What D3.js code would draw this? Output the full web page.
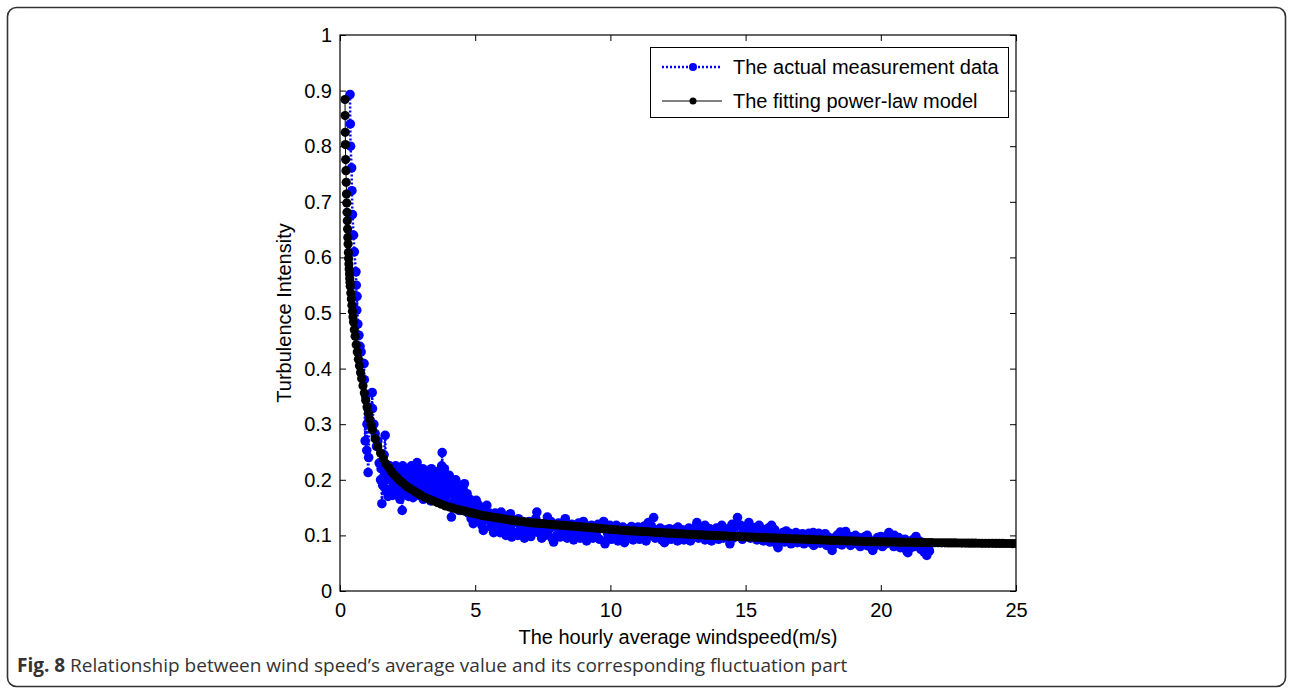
<!DOCTYPE html>
<html>
<head>
<meta charset="utf-8">
<script src="https://cdn.jsdelivr.net/npm/d3@7"></script>
<style>
  body { margin: 0; background: #fff; }
  svg { display: block; }
  text { font-family: "Liberation Sans", Arial, sans-serif; }
</style>
</head>
<body>
<div id="chart"></div>
<script>
const xTicks = [0, 5, 10, 15, 20, 25];
const yTicks = [0, 0.1, 0.2, 0.3, 0.4, 0.5, 0.6, 0.7, 0.8, 0.9, 1];
const legendLabels = ["The actual measurement data", "The fitting power-law model"];
const xTitle = "The hourly average windspeed(m/s)";
const yTitle = "Turbulence Intensity";

const measured = [
  [0.37,0.893],[0.38,0.84],[0.39,0.80],[0.43,0.761],[0.44,0.72],[0.46,0.677],[0.5,0.64],[0.53,0.61],
  [0.59,0.574],[0.6,0.55],[0.62,0.505],[0.63,0.53],[0.66,0.48],[0.7,0.46],[0.74,0.44],[0.78,0.43],
  [0.82,0.41],[0.89,0.409],[0.9,0.38],[0.93,0.27],[0.95,0.35],[0.99,0.253],[1.0,0.3],[1.04,0.213],
  [1.06,0.24],[1.1,0.33],[1.15,0.3],[1.19,0.357],[1.2,0.328],[1.25,0.3],[1.3,0.283],[1.35,0.26],
  [1.4,0.27],[1.45,0.23],[1.5,0.2],[1.52,0.22],[1.55,0.157],[1.58,0.19],[1.6,0.23],[1.63,0.245],
  [1.67,0.28],[1.7,0.21],[1.72,0.18],[1.75,0.2],[1.78,0.17],[1.82,0.215],[1.86,0.18],[1.9,0.2],
  [1.94,0.172],[1.98,0.21],[2.02,0.185],[2.06,0.225],[2.1,0.175],[2.14,0.2],[2.18,0.19],[2.22,0.165],
  [2.26,0.21],[2.3,0.145],[2.34,0.195],[2.38,0.175],[2.42,0.22],[2.46,0.18],[2.5,0.2],[2.54,0.17],
  [2.58,0.215],[2.62,0.185],[2.66,0.195],[2.7,0.168],[2.74,0.205],[2.78,0.18],[2.82,0.215],[2.85,0.231],
  [2.88,0.19],[2.92,0.172],[2.96,0.2],[3.0,0.178],[3.04,0.21],[3.08,0.165],[3.12,0.195],[3.16,0.18],
  [3.2,0.205],[3.24,0.17],[3.28,0.19],[3.32,0.2],[3.36,0.162],[3.4,0.21],[3.44,0.18],[3.48,0.195],
  [3.52,0.17],[3.56,0.205],[3.6,0.185],[3.64,0.16],[3.68,0.2],[3.72,0.175],[3.76,0.225],[3.78,0.249],
  [3.8,0.19],[3.84,0.165],[3.88,0.205],[3.92,0.17],[3.96,0.195],[4.0,0.155],[4.04,0.208],[4.08,0.175],
  [4.12,0.133],[4.16,0.19],[4.2,0.16],[4.25,0.185],[4.3,0.15],[4.35,0.18],[4.4,0.145],[4.45,0.17],
  [4.5,0.155],[4.55,0.185],[4.6,0.193],[4.65,0.15],[4.7,0.175],[4.75,0.14],[4.8,0.165],[4.85,0.13],
  [4.9,0.16],[4.93,0.121],[4.97,0.15],[5.04,0.163],[5.08,0.135],[5.12,0.155],[5.16,0.125],[5.2,0.15],
  [5.25,0.118],[5.3,0.109],[5.35,0.145],[5.43,0.154],[5.48,0.128],[5.53,0.14],[5.58,0.115],[5.63,0.135],
  [5.68,0.105],[5.74,0.14],[5.8,0.12],[5.86,0.132],[5.92,0.105],[5.96,0.142],[6.02,0.115],[6.08,0.13],
  [6.14,0.1],[6.2,0.125],[6.26,0.11],[6.3,0.139],[6.35,0.097],[6.4,0.122],[6.46,0.105],[6.52,0.128],
  [6.58,0.1],[6.64,0.12],[6.7,0.108],[6.76,0.125],[6.82,0.095],[6.88,0.118],[6.94,0.105],[7.0,0.125],
  [7.06,0.098],[7.12,0.12],[7.18,0.11],[7.24,0.13],[7.28,0.142],[7.34,0.105],[7.4,0.12],[7.46,0.095],
  [7.52,0.115],[7.58,0.1],[7.67,0.133],[7.72,0.11],[7.78,0.12],[7.84,0.095],[7.9,0.088],[7.96,0.115],
  [8.02,0.1],[8.08,0.122],[8.14,0.097],[8.2,0.118],[8.26,0.105],[8.33,0.13],[8.4,0.095],[8.46,0.115],
  [8.52,0.1],[8.58,0.12],[8.64,0.092],[8.7,0.112],[8.76,0.1],[8.82,0.122],[8.88,0.095],[8.94,0.115],
  [9.0,0.102],[9.06,0.12],[9.12,0.09],[9.18,0.11],[9.24,0.098],[9.3,0.118],[9.36,0.095],[9.42,0.112],
  [9.48,0.1],[9.54,0.12],[9.6,0.093],[9.66,0.115],[9.75,0.125],[9.8,0.085],[9.86,0.108],[9.92,0.097],
  [9.98,0.118],[10.04,0.093],[10.1,0.112],[10.16,0.1],[10.22,0.118],[10.28,0.09],[10.34,0.11],[10.4,0.098],
  [10.46,0.115],[10.52,0.087],[10.6,0.094],[10.66,0.112],[10.72,0.098],[10.78,0.116],[10.84,0.092],[10.9,0.108],
  [10.96,0.1],[11.02,0.115],[11.08,0.093],[11.14,0.11],[11.2,0.098],[11.26,0.117],[11.32,0.09],[11.4,0.123],
  [11.46,0.1],[11.52,0.112],[11.6,0.132],[11.66,0.095],[11.72,0.11],[11.78,0.1],[11.84,0.113],[11.9,0.092],
  [11.96,0.105],[12.0,0.087],[12.06,0.11],[12.12,0.097],[12.18,0.112],[12.24,0.093],[12.3,0.108],[12.36,0.098],
  [12.42,0.112],[12.48,0.09],[12.54,0.105],[12.6,0.095],[12.66,0.11],[12.72,0.092],[12.78,0.108],[12.84,0.097],
  [12.9,0.113],[12.96,0.09],[13.02,0.106],[13.08,0.098],[13.14,0.115],[13.2,0.123],[13.26,0.095],[13.32,0.11],
  [13.38,0.1],[13.44,0.114],[13.5,0.092],[13.56,0.108],[13.62,0.096],[13.68,0.112],[13.74,0.09],[13.8,0.106],
  [13.86,0.097],[13.92,0.113],[14.0,0.093],[14.06,0.108],[14.12,0.118],[14.18,0.095],[14.24,0.11],[14.3,0.099],
  [14.36,0.112],[14.42,0.085],[14.48,0.105],[14.54,0.095],[14.6,0.115],[14.7,0.132],[14.76,0.1],[14.82,0.118],
  [14.88,0.093],[14.94,0.11],[15.0,0.098],[15.06,0.116],[15.12,0.123],[15.18,0.095],[15.24,0.11],[15.3,0.098],
  [15.36,0.114],[15.42,0.092],[15.48,0.108],[15.54,0.096],[15.6,0.112],[15.66,0.09],[15.72,0.105],[15.78,0.095],
  [15.84,0.113],[15.9,0.088],[15.96,0.118],[16.02,0.1],[16.08,0.11],[16.14,0.085],[16.2,0.078],[16.26,0.1],
  [16.32,0.092],[16.38,0.105],[16.44,0.088],[16.5,0.102],[16.56,0.09],[16.62,0.104],[16.68,0.085],[16.74,0.1],
  [16.8,0.092],[16.86,0.105],[16.92,0.087],[16.98,0.1],[17.04,0.09],[17.1,0.103],[17.16,0.085],[17.22,0.098],
  [17.28,0.09],[17.34,0.104],[17.4,0.087],[17.46,0.1],[17.52,0.082],[17.58,0.097],[17.64,0.09],[17.7,0.104],
  [17.76,0.086],[17.82,0.1],[17.88,0.088],[17.94,0.103],[18.0,0.082],[18.06,0.097],[18.12,0.088],[18.2,0.073],
  [18.26,0.095],[18.32,0.085],[18.38,0.1],[18.44,0.087],[18.5,0.098],[18.56,0.083],[18.62,0.102],[18.7,0.107],
  [18.76,0.09],[18.82,0.098],[18.88,0.082],[18.94,0.097],[19.0,0.087],[19.06,0.1],[19.12,0.085],[19.18,0.096],
  [19.24,0.08],[19.3,0.095],[19.36,0.086],[19.42,0.098],[19.48,0.082],[19.54,0.094],[19.6,0.08],[19.7,0.073],
  [19.76,0.09],[19.82,0.082],[19.88,0.096],[19.94,0.085],[20.0,0.098],[20.06,0.08],[20.12,0.093],[20.18,0.085],
  [20.24,0.1],[20.3,0.105],[20.36,0.088],[20.42,0.095],[20.48,0.08],[20.54,0.092],[20.6,0.083],[20.66,0.096],
  [20.72,0.078],[20.78,0.09],[20.84,0.08],[20.9,0.093],[20.96,0.072],[21.0,0.069],[21.06,0.088],[21.12,0.078],
  [21.18,0.092],[21.24,0.08],[21.3,0.098],[21.36,0.083],[21.42,0.09],[21.48,0.075],[21.54,0.087],[21.6,0.07],
  [21.66,0.082],[21.7,0.064],[21.76,0.078],[21.8,0.072],
  // further readings inside the dense band
  [1.84,0.225],[1.92,0.185],[2.0,0.22],[2.08,0.19],[2.16,0.215],[2.24,0.18],[2.32,0.225],[2.4,0.19],
  [2.48,0.215],[2.56,0.19],[2.64,0.225],[2.72,0.19],[2.8,0.2],[2.9,0.215],[2.98,0.19],[3.06,0.22],
  [3.14,0.17],[3.22,0.215],[3.3,0.18],[3.38,0.22],[3.46,0.17],[3.54,0.215],[3.62,0.195],[3.7,0.215],
  [3.86,0.22],[3.94,0.185],[4.02,0.19],[4.1,0.2],[4.18,0.175],[4.28,0.2],[4.38,0.165],[4.48,0.19],
  [4.58,0.17],[4.68,0.16],[5.1,0.145],[5.4,0.13],[5.7,0.125],[6.0,0.135],[6.3,0.115],[6.6,0.13],
  [6.9,0.11],[7.2,0.125],[7.5,0.105],[7.8,0.125],[8.1,0.11],[8.4,0.12],[8.7,0.105],[9.0,0.125],
  [9.3,0.105],[9.6,0.118],[9.9,0.105],[10.5,0.105],[11.0,0.1],[11.5,0.118],[12.5,0.115],[13.5,0.118],
  [14.5,0.12],[15.5,0.118],[16.5,0.108],[17.5,0.105],[18.5,0.106],[19.5,0.1],[20.5,0.1],[21.2,0.085]
];

// fitted power-law model [windspeed, turbulence intensity]
const fitted = [
  [0.185,0.884],[0.19,0.855],[0.195,0.825],[0.2,0.803],[0.21,0.776],[0.22,0.756],[0.23,0.735],[0.24,0.714],
  [0.25,0.698],[0.26,0.681],[0.27,0.666],[0.28,0.651],[0.29,0.636],[0.3,0.624],[0.31,0.609],[0.32,0.598],
  [0.33,0.588],[0.34,0.579],[0.35,0.57],[0.36,0.562],[0.37,0.555],[0.38,0.548],[0.4,0.536],[0.42,0.525],
  [0.44,0.514],[0.46,0.503],[0.48,0.493],[0.5,0.484],[0.53,0.47],[0.56,0.458],[0.6,0.443],[0.64,0.43],
  [0.68,0.417],[0.72,0.405],[0.76,0.393],[0.8,0.382],[0.85,0.369],[0.9,0.356],[0.95,0.343],[1.0,0.331],
  [1.05,0.32],[1.1,0.309],[1.15,0.299],[1.2,0.29],[1.3,0.274],[1.4,0.26],[1.5,0.248],[1.6,0.238],
  [1.7,0.229],[1.8,0.222],[1.9,0.215],[2.0,0.209],[2.1,0.204],[2.2,0.199],[2.3,0.195],[2.4,0.191],
  [2.5,0.187],[2.6,0.184],[2.7,0.181],[2.8,0.178],[2.9,0.175],[3.0,0.172],[3.15,0.168],[3.3,0.165],
  [3.45,0.162],[3.6,0.159],[3.75,0.156],[3.9,0.153],[4.05,0.151],[4.2,0.149],[4.35,0.147],[4.5,0.145],
  [4.625,0.1435],[4.75,0.142],[4.875,0.1405],[5.0,0.139],[5.125,0.1375],[5.25,0.136],[5.375,0.135],[5.5,0.134],
  [5.625,0.133],[5.75,0.132],[5.875,0.131],[6.0,0.13],[6.125,0.129],[6.25,0.128],[6.375,0.127],[6.5,0.126],
  [6.625,0.1255],[6.75,0.125],[6.875,0.124],[7.0,0.123],[7.125,0.1225],[7.25,0.122],[7.375,0.1215],[7.5,0.121],
  [7.625,0.1205],[7.75,0.12],[7.875,0.1195],[8.0,0.119],[8.125,0.1185],[8.25,0.118],[8.375,0.1175],[8.5,0.117],
  [8.625,0.1165],[8.75,0.116],[8.875,0.1155],[9.0,0.115],[9.125,0.1145],[9.25,0.114],[9.375,0.1135],[9.5,0.113],
  [9.625,0.1125],[9.75,0.112],[9.875,0.1115],[10.0,0.111],[10.125,0.1105],[10.25,0.11],[10.375,0.1095],[10.5,0.109],
  [10.625,0.1085],[10.75,0.108],[10.875,0.108],[11.0,0.1075],[11.125,0.107],[11.25,0.107],[11.375,0.1065],[11.5,0.106],
  [11.625,0.1055],[11.75,0.105],[11.875,0.105],[12.0,0.1045],[12.125,0.104],[12.25,0.104],[12.375,0.1035],[12.5,0.103],
  [12.625,0.103],[12.75,0.1025],[12.875,0.102],[13.0,0.102],[13.125,0.1015],[13.25,0.101],[13.375,0.101],[13.5,0.1005],
  [13.625,0.1],[13.75,0.1],[13.875,0.0995],[14.0,0.0995],[14.125,0.099],[14.25,0.099],[14.375,0.0985],[14.5,0.0985],
  [14.625,0.098],[14.75,0.098],[14.875,0.0975],[15.0,0.0975],[15.125,0.097],[15.25,0.097],[15.375,0.0965],[15.5,0.0965],
  [15.625,0.096],[15.75,0.096],[15.875,0.0955],[16.0,0.0955],[16.125,0.095],[16.25,0.095],[16.375,0.0945],[16.5,0.0945],
  [16.625,0.094],[16.75,0.094],[16.875,0.0937],[17.0,0.0935],[17.125,0.0932],[17.25,0.093],[17.375,0.0927],[17.5,0.0925],
  [17.625,0.0922],[17.75,0.092],[17.875,0.0917],[18.0,0.0915],[18.125,0.0912],[18.25,0.091],[18.375,0.0908],[18.5,0.0906],
  [18.625,0.0904],[18.75,0.0902],[18.875,0.09],[19.0,0.0898],[19.125,0.0896],[19.25,0.0894],[19.375,0.0892],[19.5,0.089],
  [19.625,0.0889],[19.75,0.0888],[19.875,0.0886],[20.0,0.0885],[20.125,0.0884],[20.25,0.0882],[20.375,0.0881],[20.5,0.088],
  [20.625,0.0879],[20.75,0.0878],[20.875,0.0877],[21.0,0.0876],[21.125,0.0875],[21.25,0.0874],[21.375,0.0873],[21.5,0.0872],
  [21.625,0.0871],[21.75,0.087],[21.875,0.0869],[22.0,0.0868],[22.125,0.0868],[22.25,0.0867],[22.375,0.0866],[22.5,0.0865],
  [22.625,0.0865],[22.75,0.0864],[22.875,0.0863],[23.0,0.0862],[23.125,0.0862],[23.25,0.0861],[23.375,0.086],[23.5,0.086],
  [23.625,0.0859],[23.75,0.0858],[23.875,0.0858],[24.0,0.0857],[24.125,0.0857],[24.25,0.0856],[24.375,0.0855],[24.5,0.0855],
  [24.625,0.0854],[24.75,0.0854],[24.875,0.0853],[25.0,0.0853]
];

const width = 1292;
const height = 693;
const plot = { left: 340, right: 1016, top: 35, bottom: 591 };
const tickLen = 6;

const svg = d3.select("#chart").append("svg")
  .attr("width", width)
  .attr("height", height);

// outer figure frame
svg.append("rect")
  .attr("x", 7.5).attr("y", 7.5)
  .attr("width", 1278).attr("height", 679)
  .attr("rx", 9).attr("ry", 9)
  .style("fill", "none")
  .style("stroke", "#333")
  .style("stroke-width", 1.6);

const x = d3.scaleLinear().domain([0, 25]).range([plot.left, plot.right]);
const y = d3.scaleLinear().domain([0, 1]).range([plot.bottom, plot.top]);

svg.append("clipPath").attr("id", "clip")
  .append("rect")
  .attr("x", plot.left).attr("y", plot.top)
  .attr("width", plot.right - plot.left).attr("height", plot.bottom - plot.top);

const g = svg.append("g").attr("clip-path", "url(#clip)");

const line = d3.line().x((d) => x(d[0])).y((d) => y(d[1]));
const measuredSorted = d3.sort(measured, (d) => d[0]);

// measurement data: dotted line + markers
g.append("path")
  .datum(measuredSorted)
  .attr("d", line)
  .style("fill", "none")
  .style("stroke", "#0000ff")
  .style("stroke-width", 2.5)
  .style("stroke-dasharray", "2,2");

g.append("g").selectAll("circle").data(measuredSorted).enter().append("circle")
  .attr("cx", (d) => x(d[0]))
  .attr("cy", (d) => y(d[1]))
  .attr("r", 4.8)
  .style("fill", "#0000ff");

// fitted power-law model
g.append("path")
  .datum(fitted)
  .attr("d", line)
  .style("fill", "none")
  .style("stroke", "#000")
  .style("stroke-width", 1);

g.append("g").selectAll("circle").data(fitted).enter().append("circle")
  .attr("cx", (d) => x(d[0]))
  .attr("cy", (d) => y(d[1]))
  .attr("r", 4.6)
  .style("fill", "#000");

// axes box with inward ticks on all sides
const axes = svg.append("g");
axes.append("rect")
  .attr("x", plot.left).attr("y", plot.top)
  .attr("width", plot.right - plot.left).attr("height", plot.bottom - plot.top)
  .style("fill", "none")
  .style("stroke", "#000")
  .style("stroke-width", 1.2);

const bottomAxis = axes.append("g")
  .attr("transform", `translate(0,${plot.bottom})`)
  .call(d3.axisBottom(x).tickValues(xTicks).tickSizeInner(-tickLen).tickSizeOuter(0).tickPadding(12).tickFormat(d3.format("d")));
const topAxis = axes.append("g")
  .attr("transform", `translate(0,${plot.top})`)
  .call(d3.axisTop(x).tickValues(xTicks).tickSizeInner(-tickLen).tickSizeOuter(0).tickFormat(""));
const leftAxis = axes.append("g")
  .attr("transform", `translate(${plot.left},0)`)
  .call(d3.axisLeft(y).tickValues(yTicks).tickSizeInner(-tickLen).tickSizeOuter(0).tickPadding(8).tickFormat((d) => String(+d.toFixed(1))));
const rightAxis = axes.append("g")
  .attr("transform", `translate(${plot.right},0)`)
  .call(d3.axisRight(y).tickValues(yTicks).tickSizeInner(-tickLen).tickSizeOuter(0).tickFormat(""));

[bottomAxis, topAxis, leftAxis, rightAxis].forEach((a) => {
  a.select(".domain").remove();
  a.selectAll(".tick line").style("stroke", "#000").style("stroke-width", 1);
  a.selectAll(".tick text")
    .style("font-family", "'Liberation Sans', Arial, sans-serif")
    .style("font-size", "20px")
    .style("fill", "#000");
});

// axis titles
svg.append("text")
  .attr("x", (plot.left + plot.right) / 2)
  .attr("y", 644)
  .attr("text-anchor", "middle")
  .style("font-size", "20px")
  .text(xTitle);

svg.append("text")
  .attr("transform", `translate(291,${(plot.top + plot.bottom) / 2}) rotate(-90)`)
  .attr("text-anchor", "middle")
  .style("font-size", "20px")
  .text(yTitle);

// legend
const legend = svg.append("g").attr("transform", "translate(650,47)");
legend.append("rect")
  .attr("x", 0.5).attr("y", 0.5)
  .attr("width", 358).attr("height", 70)
  .style("fill", "#fff")
  .style("stroke", "#000")
  .style("stroke-width", 1);

const legendRows = legend.selectAll("g.row").data(legendLabels).enter().append("g")
  .attr("class", "row")
  .attr("transform", (d, i) => `translate(0,${20 + i * 34})`);

legendRows.append("line")
  .attr("x1", 12).attr("x2", 72)
  .style("stroke", (d, i) => i === 0 ? "#0000ff" : "#000")
  .style("stroke-width", (d, i) => i === 0 ? 2.5 : 1)
  .style("stroke-dasharray", (d, i) => i === 0 ? "2,2" : null);

legendRows.append("circle")
  .attr("cx", 43).attr("r", (d, i) => i === 0 ? 4 : 3.5)
  .style("fill", (d, i) => i === 0 ? "#0000ff" : "#000");

legendRows.append("text")
  .attr("x", 83).attr("dy", "0.35em")
  .style("font-size", "20px")
  .text((d) => d);

// caption
const caption = svg.append("text")
  .attr("x", 17).attr("y", 672)
  .style("font-family", "'Open Sans', sans-serif")
  .style("font-size", "19px")
  .style("fill", "#333");
caption.append("tspan").style("font-weight", "bold").text("Fig. 8");
caption.append("tspan").text(" Relationship between wind speed’s average value and its corresponding fluctuation part");
</script>
</body>
</html>
